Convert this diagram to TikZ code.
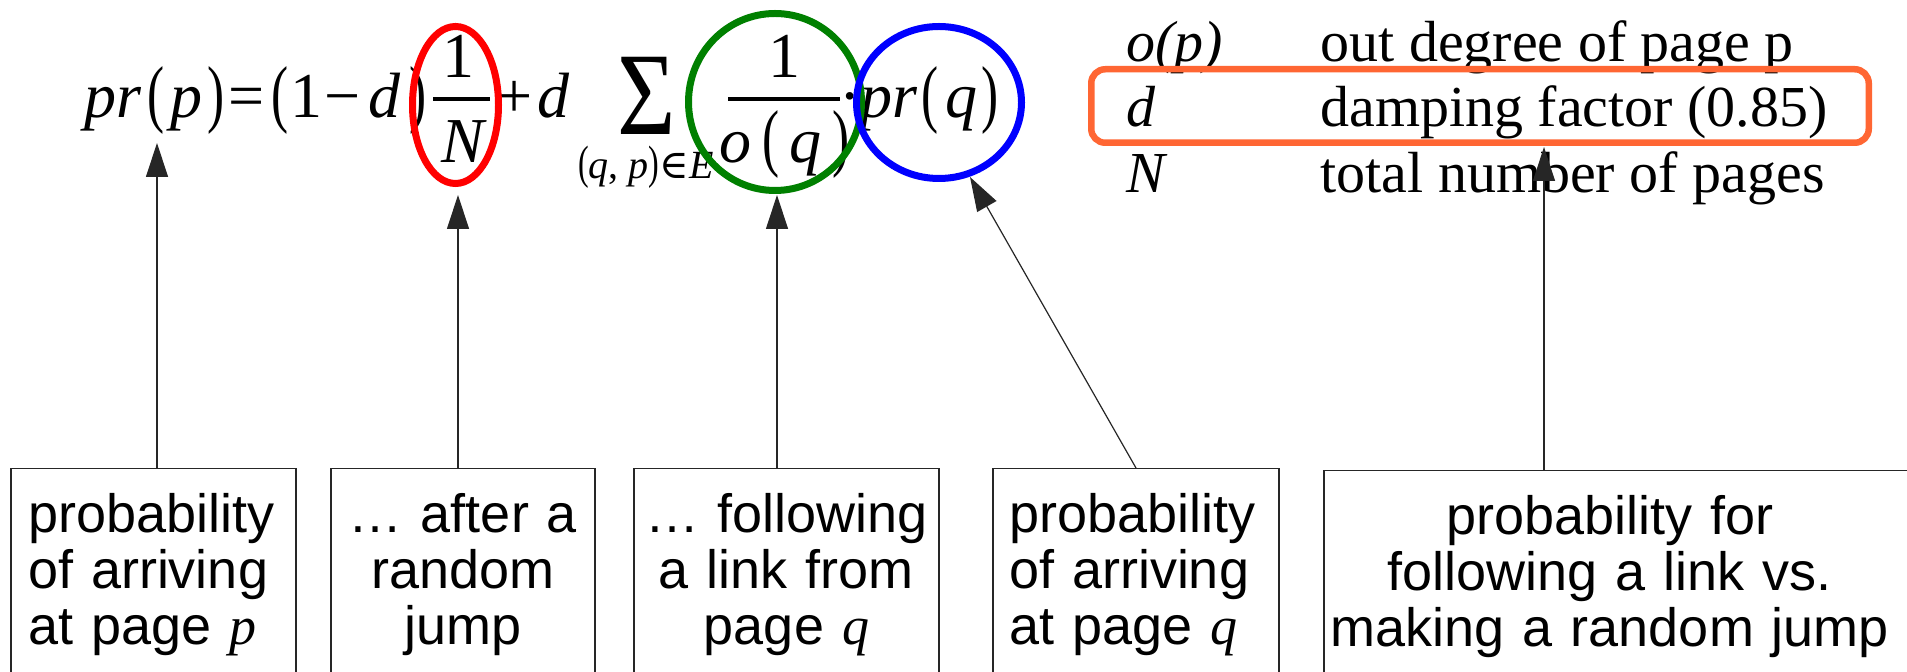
\documentclass[tikz,border=0pt]{standalone}
\usepackage{graphicx}
\usepackage{fontspec}
\setmainfont{Liberation Serif}
\setsansfont{Liberation Sans}
\newfontfamily\dvs{DejaVu Serif}
\usetikzlibrary{arrows.meta,shapes.geometric}
\definecolor{myorange}{RGB}{255,102,51}
\definecolor{mygreen}{RGB}{0,128,0}
\newcommand\tallpar[1]{\scalebox{0.8}[1.17]{#1}}
\begin{document}
\begin{tikzpicture}[x=0.5pt,y=-0.5pt,
  fm/.style={inner sep=0pt, anchor=base, font=\fontsize{32}{32}\selectfont},
  fi/.style={inner sep=0pt, anchor=base, font=\fontsize{32}{32}\selectfont\itshape},
  lg/.style={inner sep=0pt, anchor=base west, font=\fontsize{29}{29}\selectfont},
  box/.style={draw=black!85, line width=0.75pt, anchor=north, inner ysep=12pt,
    text height=20pt, text depth=62pt, font=\sffamily\fontsize{27}{28}\selectfont},
  arr/.style={-{Triangle[length=17pt,width=11pt]}, line width=0.6pt, black!85},
  ring/.style={ellipse, draw, line width=3.5pt, inner sep=0pt}]
\useasboundingbox (0,0) rectangle (1907,672);
\fill[white] (0,0) rectangle (1907,672);
\clip (0,0) rectangle (1907,672);

% formula
\node[fi] (f1) at (112.5,118) {pr};
\node[fm] (f2) at (156,119) {\tallpar{(}};
\node[fi] (f3) at (186.5,118) {p};
\node[fm] (f4) at (216,119) {\tallpar{)}};
\node[fm] (f5) at (246.5,118) {=};
\node[fm] (f6) at (280,119) {\tallpar{(}};
\node[fm] (f7) at (306.5,118) {1};
\node[fm] (f8) at (342.5,118) {−};
\node[fi] (f9) at (384.5,118) {d};
\node[fm] (f10) at (418,119) {\tallpar{)}};
\node[fm] (f11) at (458.5,78) {1};
\draw[line width=1.8pt] (433,99) -- (490,99);
\node[fi] (f12) at (462.5,163) {N};
\node[fm] (f13) at (515,118) {+};
\node[fi] (f14) at (553.5,118) {d};
\node[fm, font=\fontsize{59}{59}\selectfont] (f15) at (647,135) {\scalebox{0.85}[1]{Σ}};
\node[fm, font=\fontsize{20}{20}\selectfont] (f16) at (646,179) {\tallpar{(}\textit{q}, \textit{p}\tallpar{)}{\dvs ∈}\textit{E}};
\node[fm] (f17) at (784,78) {1};
\draw[line width=1.8pt] (728,99) -- (840,99);
\node[fm] (f18) at (784.5,163) {\textit{o}\,\tallpar{(}\,\textit{q}\,\tallpar{)}};
\node[fm] (f19) at (850,118) {·};
\node[fi] (f20) at (888.5,118) {pr};
\node[fm] (f21) at (930,119) {\tallpar{(}};
\node[fi] (f22) at (961,118) {q};
\node[fm] (f23) at (990,119) {\tallpar{)}};

% rings
\node[ring, draw=red, minimum width=43pt, minimum height=78.5pt] (eN) at (455.5,105) {};
\node[ring, draw=mygreen, minimum width=86.5pt, minimum height=88.5pt] (eO) at (775,102) {};
\node[ring, draw=blue, minimum width=82.5pt, minimum height=76pt] (eP) at (939,102.5) {};

% legend
\node[lg] (l1a) at (1126,62) {\itshape o(p)};
\node[lg] (l1b) at (1320,62) {out degree of page p};
\node[lg] (l2a) at (1126,127) {\itshape d};
\node[lg] (l2b) at (1320,127) {damping factor (0.85)};
\node[lg] (l3a) at (1126,193) {\itshape N};
\node[lg] (l3b) at (1320,193) {total number of pages};
\node[draw=myorange, line width=3.25pt, rounded corners=7pt, inner sep=0pt,
  minimum width=388.75pt, minimum height=36.75pt] (dbox) at (1480,106) {};

% boxes
\node[box, text width=125.5pt, inner xsep=8.5pt, align=left] (b1) at (153.5,468)
  {probability\\of arriving\\at page {\rmfamily\itshape p}};
\node[box, text width=124pt, inner xsep=4pt, align=center] (b2) at (463,468)
  {… after a\\random\\jump};
\node[box, text width=144.5pt, inner xsep=4pt, align=center] (b3) at (786.5,468)
  {… following\\a link from\\page {\rmfamily\itshape q}};
\node[box, text width=127pt, inner xsep=8pt, align=left] (b4) at (1136,468)
  {probability\\of arriving\\at page {\rmfamily\itshape q}};
\node[draw=black!85, line width=0.75pt, anchor=north west, minimum width=320pt,
  minimum height=120pt, inner sep=0pt] (b5) at (1323,470) {};
\node[box, draw=none, text width=282pt, inner xsep=0pt, align=center] (t5) at (1610,470)
  {probability for\\following a link vs.\\making a random jump};

% arrows
\coordinate (tip1) at (157,143);
\coordinate (tip2) at (458,195);
\coordinate (tip3) at (777,195);
\coordinate (tip4) at (970,177);
\coordinate (tip5) at (1544,147);
\draw[arr] (b1.north -| tip1) -- (tip1);
\draw[arr] (b2.north -| tip2) -- (tip2);
\draw[arr] (b3.north -| tip3) -- (tip3);
\draw[arr] (b4.north) -- (tip4);
\draw[arr] (tip5 |- b5.north west) -- (tip5);
\end{tikzpicture}
\end{document}
